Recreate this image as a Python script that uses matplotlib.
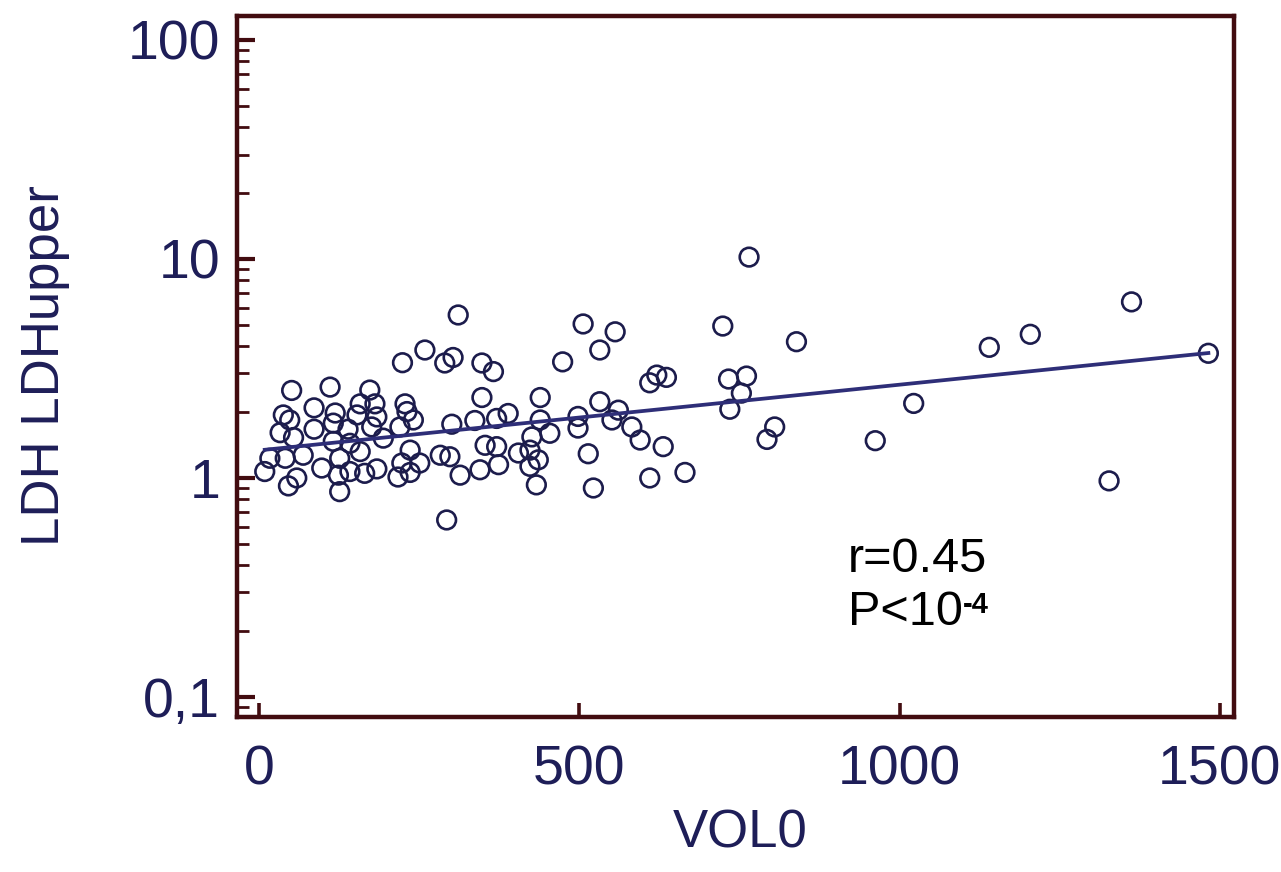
import numpy as np
import matplotlib
matplotlib.use("Agg")
import matplotlib.pyplot as plt
from matplotlib.ticker import FixedLocator, FixedFormatter, LogLocator, NullFormatter

# ---- data ----
vol0 = [51, 111, 173, 86, 38, 48, 119, 158, 181, 153, 184, 33, 54, 86, 116, 139, 176, 194,
        116, 142, 69, 17, 41, 126, 158, 9, 98, 142, 165, 184, 124, 59, 46, 126,
        311, 259, 224, 290, 303, 348, 366, 348, 439, 228, 231, 241, 220, 301, 337, 371,
        389, 439, 454, 426, 353, 371, 236, 223, 251, 283, 298, 314, 345, 374, 405, 423,
        436, 423, 433, 217, 236, 293,
        506, 556, 532, 474, 621, 636, 610, 532, 561, 551, 498, 498, 582, 595, 631, 514,
        610, 665, 522,
        765, 724, 839, 733, 761, 753, 735, 1022, 805, 793, 962,
        1140, 1204, 1362, 1482, 1327]
ldh = [2.51, 2.60, 2.52, 2.09, 1.94, 1.84, 1.98, 2.18, 2.18, 1.94, 1.90, 1.61, 1.53, 1.67,
       1.78, 1.67, 1.71, 1.52, 1.47, 1.44, 1.27, 1.23, 1.23, 1.23, 1.32, 1.07, 1.11, 1.07,
       1.05, 1.10, 1.03, 1.00, 0.92, 0.866,
       5.55, 3.84, 3.36, 3.35, 3.55, 3.35, 3.06, 2.33, 2.33, 2.18, 2.01, 1.84, 1.71, 1.76,
       1.83, 1.87, 1.97, 1.84, 1.60, 1.54, 1.41, 1.39, 1.34, 1.17, 1.17, 1.27, 1.25, 1.03,
       1.09, 1.15, 1.30, 1.34, 1.21, 1.13, 0.93, 1.01, 1.06, 0.643,
       5.05, 4.65, 3.84, 3.39, 2.95, 2.88, 2.72, 2.23, 2.04, 1.84, 1.91, 1.69, 1.71, 1.49,
       1.39, 1.29, 1.00, 1.06, 0.90,
       10.2, 4.94, 4.19, 2.83, 2.92, 2.44, 2.06, 2.19, 1.71, 1.50, 1.48,
       3.95, 4.53, 6.37, 3.71, 0.97]

# regression on log scale: log10(y) = a + b*x
reg_intercept = 0.126
reg_slope = 3.0e-4

x_ticks = [0, 500, 1000, 1500]
x_ticklabels = ["0", "500", "1000", "1500"]
y_ticks = [0.1, 1, 10, 100]
y_ticklabels = ["0,1", "1", "10", "100"]

x_label = "VOL0"
y_label = "LDH LDHupper"
stat_r = "r=0.45"
stat_p = "P<10"
stat_p_exp = "-4"

# ---- style ----
plt.rcParams['font.family'] = ['Liberation Sans', 'DejaVu Sans']
spine_c = "#420c10"
navy = "#1e1e58"
pt_c = "#1c1c4c"
line_c = "#2e2e78"

W, H = 1281, 872
fig = plt.figure(figsize=(W / 100, H / 100), dpi=100)
L, R, T, B = 237, 1234, 16, 717
ax = fig.add_axes([L / W, 1 - B / H, (R - L) / W, (B - T) / H])

ax.scatter(vol0, ldh, s=180, facecolors="none", edgecolors=pt_c, linewidths=1.9, zorder=3)

xs = np.array([min(vol0), max(vol0)])
ax.plot(xs, 10 ** (reg_intercept + reg_slope * xs), color=line_c, lw=2.7, zorder=4)

ax.set_yscale("log")
ax.set_xlim(-34.3, 1522)
ax.set_ylim(0.081, 128.7)

ax.xaxis.set_major_locator(FixedLocator(x_ticks))
ax.xaxis.set_major_formatter(FixedFormatter(x_ticklabels))
ax.yaxis.set_major_locator(FixedLocator(y_ticks))
ax.yaxis.set_major_formatter(FixedFormatter(y_ticklabels))
ax.yaxis.set_minor_locator(LogLocator(base=10, subs=np.arange(2, 10)))
ax.yaxis.set_minor_formatter(NullFormatter())

ax.tick_params(axis="x", which="major", direction="in", length=10, width=2.6,
               color=spine_c, labelsize=40, labelcolor=navy, pad=20)
ax.tick_params(axis="y", which="major", direction="in", length=13, width=3.0,
               color=spine_c, labelsize=40, labelcolor=navy, pad=12)
ax.tick_params(axis="y", which="minor", direction="in", length=8.5, width=2.0,
               color=spine_c)
ax.tick_params(top=False, right=False, which="both")

for s in ax.spines.values():
    s.set_color(spine_c)
    s.set_linewidth(3.2)

fig.text(740 / W, 1 - 833 / H, x_label, ha="center", va="center", fontsize=38, color=navy)
fig.text(45 / W, 1 - 366 / H, y_label, ha="center", va="center", rotation=90,
         fontsize=38, color=navy)

ax.text(0.613, 0.207, stat_r, transform=ax.transAxes, fontsize=35, color="black",
        ha="left", va="baseline")
tp = ax.text(0.613, 0.131, stat_p, transform=ax.transAxes, fontsize=35, color="black",
             ha="left", va="baseline")
ax.annotate(stat_p_exp, xy=(1.0, 0.98), xycoords=tp, ha="left", va="top",
            fontsize=21, color="black", fontweight="bold")

fig.savefig("out.png", dpi=100)
